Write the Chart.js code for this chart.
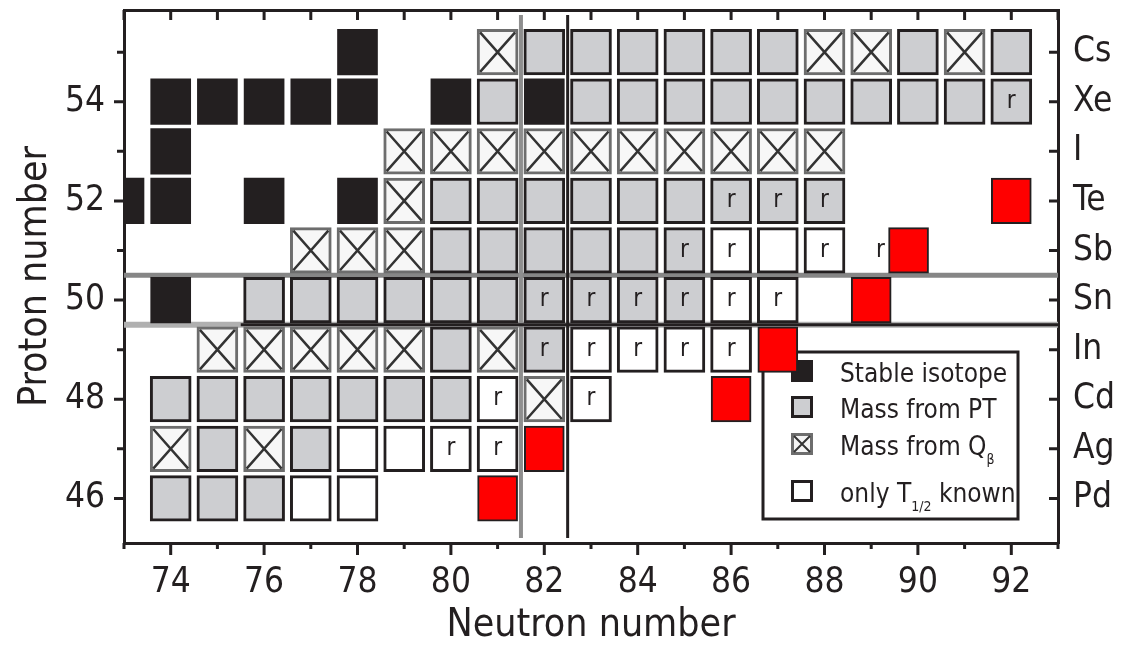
<!DOCTYPE html>
<html>
<head>
<meta charset="utf-8">
<script src="https://cdn.jsdelivr.net/npm/chart.js@4.4.1/dist/chart.umd.min.js"></script>
<style>
  html, body { margin: 0; padding: 0; background: #fff; }
  #wrap { width: 1122px; height: 645px; }
</style>
</head>
<body>
<div id="wrap"><canvas id="chart" width="1122" height="645"></canvas></div>
<script>
const INK = '#231f20';
const GREY = '#cdced1';
const FONT = "'Liberation Sans Narrow', 'DejaVu Sans Condensed', 'Arial Narrow', Arial, sans-serif";

// element symbols for Z = 46 .. 55
const elements = ['Pd', 'Ag', 'Cd', 'In', 'Sn', 'Sb', 'Te', 'I', 'Xe', 'Cs'];
const firstZ = 46;
const neutronRange = [73, 93];
const protonRange = [45.1, 55.85];

// cells as [N, Z]
const stable = [
    [78, 55],
    [74, 54], [75, 54], [76, 54], [77, 54], [78, 54], [80, 54], [82, 54],
    [74, 53],
    [73, 52], [74, 52], [76, 52], [78, 52],
    [74, 50],
];
const massPT = [
    [82, 55], [83, 55], [84, 55], [85, 55], [86, 55], [87, 55], [90, 55], [92, 55],
    [81, 54], [83, 54], [84, 54], [85, 54], [86, 54], [87, 54], [88, 54], [89, 54], [90, 54], [91, 54], [92, 54],
    [80, 52], [81, 52], [82, 52], [83, 52], [84, 52], [85, 52], [86, 52], [87, 52], [88, 52],
    [80, 51], [81, 51], [82, 51], [83, 51], [84, 51], [85, 51],
    [76, 50], [77, 50], [78, 50], [79, 50], [80, 50], [81, 50], [82, 50], [83, 50], [84, 50], [85, 50],
    [80, 49], [82, 49],
    [74, 48], [75, 48], [76, 48], [77, 48], [78, 48], [79, 48], [80, 48],
    [75, 47], [77, 47],
    [74, 46], [75, 46], [76, 46],
];
const massQbeta = [
    [81, 55], [88, 55], [89, 55], [91, 55],
    [79, 53], [80, 53], [81, 53], [82, 53], [83, 53], [84, 53], [85, 53], [86, 53], [87, 53], [88, 53],
    [79, 52],
    [77, 51], [78, 51], [79, 51],
    [75, 49], [76, 49], [77, 49], [78, 49], [79, 49], [81, 49],
    [82, 48],
    [74, 47], [76, 47],
];
const halfLifeOnly = [
    [86, 51], [87, 51], [88, 51],
    [86, 50], [87, 50],
    [83, 49], [84, 49], [85, 49], [86, 49],
    [81, 48], [83, 48],
    [78, 47], [79, 47], [80, 47], [81, 47],
    [77, 46], [78, 46],
];
const newMasses = [[92, 52], [89.8, 51], [89, 50], [87, 49], [86, 48], [82, 47], [81, 46]];
const rProcess = [
    [92, 54],
    [86, 52], [87, 52], [88, 52],
    [85, 51], [86, 51], [88, 51], [89.2, 51],
    [82, 50], [83, 50], [84, 50], [85, 50], [86, 50], [87, 50],
    [82, 49], [83, 49], [84, 49], [85, 49], [86, 49],
    [81, 48], [83, 48],
    [80, 47], [81, 47],
];

// closed shells N = 82 and Z = 50
const shellN = [81.5, 82.5];
const shellZ = [50.5, 49.5];
const shellSpanZ = [45.2, 55.75];
const shellSpanN = [75.5, 93];

const HALF_H = 0.46;
const cells = (pairs) => pairs.map(([n, z]) => ({ x: n, y: [z - HALF_H, z + HALF_H] }));

const lineSet = (points, color, width) => ({
    type: 'line',
    data: points,
    borderColor: color,
    borderWidth: width,
    pointRadius: 0,
    order: 10,
});

const QB_INDEX = 3;

/* ------------------------------------------------------------------ */
/* Kreuze in den Q-beta-Zellen und "r"-Markierungen                    */
/* ------------------------------------------------------------------ */
const cellMarks = {
    id: 'cellMarks',
    afterDatasetsDraw(chart) {
        const { ctx, scales: { x, y } } = chart;
        ctx.save();
        ctx.strokeStyle = '#333';
        ctx.lineWidth = 2.5;
        chart.getDatasetMeta(QB_INDEX).data.forEach((bar) => {
            const { x: cx, y: top, base, width } = bar.getProps(['x', 'y', 'base', 'width'], true);
            const l = cx - width / 2 + 3;
            const r = cx + width / 2 - 3;
            const t = Math.min(top, base) + 3;
            const b = Math.max(top, base) - 3;
            ctx.beginPath();
            ctx.moveTo(l, t);
            ctx.lineTo(r, b);
            ctx.moveTo(r, t);
            ctx.lineTo(l, b);
            ctx.stroke();
        });

        ctx.fillStyle = INK;
        ctx.font = `24px ${FONT}`;
        ctx.textAlign = 'center';
        ctx.textBaseline = 'middle';
        rProcess.forEach(([n, z]) => {
            ctx.fillText('r', x.getPixelForValue(n), y.getPixelForValue(z));
        });
        ctx.restore();
    },
};

/* ------------------------------------------------------------------ */
/* Legende im Diagramm                                                 */
/* ------------------------------------------------------------------ */
const legendBox = {
    id: 'legendBox',
    beforeDatasetsDraw(chart) {
        const { ctx, chartArea: a } = chart;
        const left = a.right - 295;
        const top = a.bottom - 191;
        const w = 255;
        const h = 167;

        ctx.save();
        ctx.fillStyle = '#fff';
        ctx.fillRect(left, top, w, h);
        ctx.strokeStyle = INK;
        ctx.lineWidth = 3;
        ctx.strokeRect(left, top, w, h);

        const rows = [
            { base: 30, fill: INK, stroke: null, text: 'Stable isotope' },
            { base: 66, fill: GREY, stroke: INK, text: 'Mass from PT' },
            { base: 103, fill: '#f4f4f4', stroke: '#6d6d6d', cross: true, text: 'Mass from Q', sub: 'β' },
            { base: 150, fill: '#fff', stroke: INK, text: 'only T', sub: '1/2', after: ' known' },
        ];

        rows.forEach((row) => {
            const by = top + row.base;
            const sx = left + 28;
            const s = 22;
            ctx.fillStyle = row.fill;
            ctx.fillRect(sx, by - s, s, s);
            if (row.stroke) {
                ctx.strokeStyle = row.stroke;
                ctx.lineWidth = 3;
                ctx.strokeRect(sx + 1.5, by - s + 1.5, s - 3, s - 3);
            }
            if (row.cross) {
                ctx.strokeStyle = '#333';
                ctx.lineWidth = 2;
                ctx.beginPath();
                ctx.moveTo(sx + 3, by - s + 3);
                ctx.lineTo(sx + s - 3, by - 3);
                ctx.moveTo(sx + s - 3, by - s + 3);
                ctx.lineTo(sx + 3, by - 3);
                ctx.stroke();
            }

            let tx = left + 77;
            ctx.fillStyle = INK;
            ctx.textAlign = 'left';
            ctx.textBaseline = 'alphabetic';
            ctx.font = `26px ${FONT}`;
            ctx.fillText(row.text, tx, by);
            tx += ctx.measureText(row.text).width;
            if (row.sub) {
                ctx.font = `14px ${FONT}`;
                ctx.fillText(row.sub, tx, by + 9);
                tx += ctx.measureText(row.sub).width;
            }
            if (row.after) {
                ctx.font = `26px ${FONT}`;
                ctx.fillText(row.after, tx, by);
            }
        });
        ctx.restore();
    },
};

/* ------------------------------------------------------------------ */
/* Teilstriche: aussen unten/links, innen oben/rechts                  */
/* ------------------------------------------------------------------ */
const frameTicks = {
    id: 'frameTicks',
    afterDraw(chart) {
        const { ctx, chartArea: a, scales: { x, y } } = chart;
        ctx.save();
        ctx.strokeStyle = INK;
        ctx.lineWidth = 3;
        ctx.beginPath();
        for (let n = Math.ceil(x.min); n <= x.max; n++) {
            const px = x.getPixelForValue(n);
            ctx.moveTo(px, a.bottom);
            ctx.lineTo(px, a.bottom + (n % 2 === 0 ? 12 : 6));
            ctx.moveTo(px, a.top);
            ctx.lineTo(px, a.top + 10);
        }
        for (let z = Math.ceil(y.min); z <= y.max; z++) {
            const py = y.getPixelForValue(z);
            ctx.moveTo(a.left, py);
            ctx.lineTo(a.left - (z % 2 === 0 ? 10 : 7), py);
            ctx.moveTo(a.right, py);
            ctx.lineTo(a.right - 9, py);
        }
        ctx.stroke();
        ctx.restore();
    },
};

const noPadding = (s) => {
    s.paddingTop = 0;
    s.paddingBottom = 0;
    s.paddingLeft = 0;
    s.paddingRight = 0;
};

const tickFont = { family: FONT, size: 35, lineHeight: 1 };
const titleFont = { family: FONT, size: 39, lineHeight: 1 };
const frame = { display: true, color: INK, width: 3 };

new Chart(document.getElementById('chart'), {
    type: 'bar',
    data: {
        datasets: [
            {
                label: 'new',
                data: cells(newMasses),
                backgroundColor: '#ff0000',
                borderColor: INK,
                borderWidth: 2,
                barThickness: 40,
                order: 0,
            },
            {
                label: 'Stable isotope',
                data: cells(stable),
                backgroundColor: INK,
                borderWidth: 0,
                barThickness: 40,
                order: 1,
            },
            {
                label: 'Mass from PT',
                data: cells(massPT),
                backgroundColor: GREY,
                borderColor: INK,
                borderWidth: 3,
                barThickness: 41,
                order: 2,
            },
            {
                label: 'Mass from Qβ',
                data: cells(massQbeta),
                backgroundColor: '#f7f7f7',
                borderColor: '#6d6d6d',
                borderWidth: 3,
                barThickness: 41,
                order: 2,
            },
            {
                label: 'only T1/2 known',
                data: cells(halfLifeOnly),
                backgroundColor: '#fff',
                borderColor: INK,
                borderWidth: 3,
                barThickness: 41,
                order: 2,
            },
            lineSet(shellSpanN.map((n) => ({ x: n, y: shellZ[1] })), INK, 3),
            lineSet(shellSpanZ.map((z) => ({ x: shellN[0], y: z })), '#8e8e8e', 4),
            lineSet(shellSpanZ.map((z) => ({ x: shellN[1], y: z })), INK, 3),
            lineSet(neutronRange.map((n) => ({ x: n, y: shellZ[0] })), '#868686', 5),
            lineSet(neutronRange.map((n) => ({ x: n, y: shellZ[1] })), '#b0b0b0', 6),
        ],
    },
    options: {
        responsive: false,
        devicePixelRatio: 1,
        animation: false,
        events: [],
        layout: { padding: 0 },
        datasets: {
            bar: { grouped: false, borderSkipped: false },
        },
        plugins: {
            legend: { display: false },
            tooltip: { enabled: false },
        },
        scales: {
            x: {
                type: 'linear',
                position: 'bottom',
                min: neutronRange[0],
                max: neutronRange[1],
                offset: false,
                afterFit: (s) => { s.height = 102; noPadding(s); },
                grid: { display: false, drawTicks: false },
                border: frame,
                ticks: {
                    stepSize: 1,
                    autoSkip: false,
                    maxRotation: 0,
                    padding: 22,
                    color: INK,
                    font: tickFont,
                    callback: (v) => (v % 2 === 0 ? String(v) : ''),
                },
                title: { display: true, text: 'Neutron number', color: INK, font: titleFont, padding: 0 },
            },
            xTop: {
                type: 'linear',
                position: 'top',
                min: neutronRange[0],
                max: neutronRange[1],
                afterFit: (s) => { s.height = 10; noPadding(s); },
                grid: { display: false, drawTicks: false },
                border: frame,
                ticks: { display: false },
            },
            y: {
                type: 'linear',
                position: 'left',
                min: protonRange[0],
                max: protonRange[1],
                afterFit: (s) => { s.width = 124; noPadding(s); },
                grid: { display: false, drawTicks: false },
                border: frame,
                ticks: {
                    stepSize: 1,
                    includeBounds: false,
                    autoSkip: false,
                    padding: 19,
                    color: INK,
                    font: tickFont,
                    callback: (v) => (v % 2 === 0 ? String(v) : ''),
                },
                title: { display: true, text: 'Proton number', color: INK, font: titleFont, padding: { top: 16 } },
            },
            yRight: {
                type: 'linear',
                position: 'right',
                min: protonRange[0],
                max: protonRange[1],
                afterFit: (s) => { s.width = 64; noPadding(s); },
                grid: { display: false, drawTicks: false },
                border: frame,
                ticks: {
                    stepSize: 1,
                    includeBounds: false,
                    autoSkip: false,
                    padding: 15,
                    color: INK,
                    font: { family: FONT, size: 35, lineHeight: 1 },
                    callback: (v) => elements[v - firstZ] ?? '',
                },
            },
        },
    },
    plugins: [legendBox, cellMarks, frameTicks],
});
</script>
</body>
</html>
